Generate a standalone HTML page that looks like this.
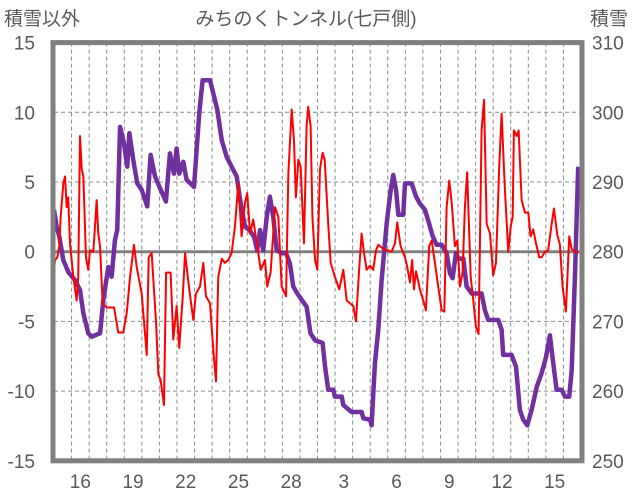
<!DOCTYPE html>
<html><head><meta charset="utf-8"><style>
html,body{margin:0;padding:0;background:#fff;}
svg{display:block;font-family:"Liberation Sans","Noto Sans CJK JP",sans-serif;}
</style></head><body>
<svg id="chart" width="636" height="501" viewBox="0 0 636 501" xmlns="http://www.w3.org/2000/svg">
<text x="306" y="25" text-anchor="middle" font-size="19" fill="#595959">みちのくトンネル(七戸側)</text>
<text x="4" y="25" font-size="19" fill="#595959">積雪以外</text>
<text x="590" y="25" font-size="19" fill="#595959">積雪</text>
<g id="grid"></g>
<g id="series"></g>
<g id="frame"></g>
<g id="labels"></g>
</svg>
<script>
const xLabels = ["16","19","22","25","28","3","6","9","12","15"];
const xLabelDays = [1,4,7,10,13,16,19,22,25,28];
const leftTicks = [15,10,5,0,-5,-10,-15];
const rightTicks = [310,300,290,280,270,260,250];
const redT = [0,.06,.19,.30,.38,.53,.63,.72,.81,.91,1.10,1.29,1.38,1.48,1.58,1.67,1.82,1.95,2.05,2.24,2.43,2.52,2.62,2.77,3.00,3.42,3.66,3.94,4.14,4.33,4.55,4.71,4.99,5.28,5.39,5.56,5.81,5.94,6.07,6.26,6.38,6.64,6.79,6.98,7.13,7.33,7.46,7.70,7.93,8.08,8.31,8.50,8.65,8.88,9.07,9.22,9.35,9.55,9.73,9.92,10.11,10.30,10.49,10.68,10.87,11.00,11.16,11.34,11.57,11.77,12.01,12.14,12.33,12.58,12.77,12.96,13.21,13.34,13.53,13.66,13.77,13.91,14.04,14.23,14.38,14.47,14.61,14.71,14.86,14.99,15.14,15.29,15.41,15.61,15.75,15.99,16.24,16.47,16.66,16.85,17.04,17.19,17.38,17.51,17.65,17.80,17.99,18.17,18.33,18.46,18.74,19.22,19.41,19.54,19.73,19.98,20.11,20.26,20.39,20.49,20.61,20.83,21.02,21.17,21.36,21.50,21.74,21.87,22.07,22.22,22.35,22.50,22.64,22.82,22.96,23.11,23.26,23.39,23.52,23.72,23.87,24.02,24.17,24.34,24.48,24.63,24.82,25.00,25.16,25.35,25.48,25.67,25.86,26.00,26.11,26.18,26.34,26.45,26.62,26.81,27.00,27.13,27.28,27.44,27.62,27.76,27.95,28.13,28.33,28.46,28.65,28.80,28.95,29.14,29.33,29.47,29.66,29.84];
const redV = [-1.4,-0.6,-0.4,0.4,2.5,4.9,5.4,3.2,3.9,0.6,-1.8,-3.5,-1.8,8.3,5.9,5.4,-0.4,-1.3,0.1,0.0,3.7,1.3,0.4,-3.7,-4.0,-4.0,-5.8,-5.8,-4.4,-1.8,0.5,-1.1,-3.0,-7.4,-0.4,-0.1,-5.1,-8.8,-9.2,-11,-1.5,-1.5,-6.3,-3.9,-6.9,-3.2,-0.1,-2.7,-4.9,-3.0,-2.5,-0.8,-3.2,-3.7,-7.1,-9.3,-1.8,-0.5,-0.8,-0.6,-0.1,1.8,4.9,1.1,3.5,4.2,1.3,2.3,0.4,-1.3,-0.6,-2.5,-1.5,3.2,2.5,-2.5,-3.2,5.6,10.2,8.0,3.9,6.6,6.1,0.6,9.0,10.4,9.0,2.5,-0.6,-1.3,5.9,7.1,6.6,2.0,-0.8,-1.8,-2.7,-1.3,-3.5,-3.7,-3.9,-5.0,-1.1,1.3,-0.1,-1.3,-1.0,-1.3,0.1,0.5,0.2,0.0,0.6,2.1,0.4,-0.4,-1.1,-2.2,-0.6,-2.7,-1.4,-2.7,-3.5,-4.2,0.4,0.8,-1.3,-2.5,-4.2,-4.3,3.2,5.1,3.5,0.4,0.8,-2.5,-1.5,3.2,5.7,-1.8,-3.5,-5.4,-5.9,8.7,10.9,2.0,1.3,-1.7,-0.8,6.3,9.9,4.4,0.0,1.8,2.5,8.7,8.3,8.7,3.7,2.8,2.8,1.1,1.6,0.6,-0.4,-0.4,0.0,0.1,2.0,3.1,1.2,0.5,-2.5,-4.3,1.1,0.2,0.0,-0.1];
const snowT = [0,.15,.30,.53,.81,1.20,1.48,1.67,1.95,2.15,2.62,2.81,3.09,3.28,3.47,3.60,3.76,3.98,4.17,4.29,4.51,4.74,4.99,5.31,5.50,5.75,6.07,6.37,6.60,6.83,6.98,7.13,7.36,7.55,7.97,8.12,8.27,8.46,8.88,9.07,9.30,9.55,9.83,10.11,10.40,10.63,10.87,11.12,11.38,11.57,11.73,11.91,12.11,12.29,12.48,12.68,12.96,13.21,13.43,13.62,13.85,14.10,14.38,14.60,14.86,15.29,15.43,15.61,15.90,15.99,16.38,16.47,16.94,17.51,17.61,17.99,18.08,18.27,18.46,18.65,18.94,19.17,19.31,19.47,19.60,19.88,19.98,20.36,20.61,20.83,21.12,21.30,21.56,21.78,22.07,22.35,22.54,22.69,22.88,23.01,23.30,23.49,23.78,24.34,24.53,24.72,25.29,25.48,25.57,26.05,26.30,26.52,26.71,26.94,27.19,27.48,27.76,28.01,28.23,28.42,28.61,28.90,29.09,29.33,29.47,29.66,29.84];
const snowV = [286,283.6,282.2,278.8,277.1,275.9,274.5,271.2,268.3,267.8,268.3,273.1,277.8,276.4,281.7,283.1,297.9,295.6,292.2,297,293.2,289.8,288.9,286.5,293.9,290.8,288.9,287.2,294.1,291.2,294.8,291.2,292.9,290.3,289.3,294.6,299.9,304.6,304.6,302.7,300.3,296,293.6,292.2,290.8,286.9,283.6,283.1,282.2,280.2,283.1,280.2,285,287.9,285,280.2,279.8,279.8,278.3,275,274,273.1,272.1,268.3,267.3,266.9,263.5,260.2,260.2,259.2,259.2,258,257,257,256.1,255.9,255.1,264,268.8,275.9,284.1,288.9,291,288.9,285.3,285.3,289.8,289.8,287.9,286.9,286,284.5,282.2,281,281,279.8,276.9,276.2,279.8,279,279,275,274,274,271.6,270.2,270.2,268.8,265.2,265.2,263.5,257.3,255.9,255.1,257.3,260.6,262.6,264.9,268,264,260.2,260.2,259.2,259.2,263,276.9,292.2];

const X0=54, X1=581, Y0=42.6, Y1=460.8, NDAYS=30;
const xS = t => X0 + t*(X1-X0)/NDAYS;
const yL = v => Y0 + (15-v)*(Y1-Y0)/30;
const yR = v => Y0 + (310-v)*(Y1-Y0)/60;
const NS="http://www.w3.org/2000/svg";
function mk(tag, parent, attrs){const e=document.createElementNS(NS,tag);for(const k in attrs)e.setAttribute(k,attrs[k]);parent.appendChild(e);return e;}
const grid=document.getElementById('grid'), series=document.getElementById('series'), frame=document.getElementById('frame'), labels=document.getElementById('labels');
for(let d=1; d<NDAYS; d++){
  const l=mk('line',grid,{x1:xS(d),x2:xS(d),y1:Y0,y2:Y1,stroke:'#8c8c8c','stroke-width':1,'stroke-dasharray':'4,3'});
  
  
}
leftTicks.forEach((v,i)=>{
  if(v!==15 && v!==-15 && v!==0){
    const l=mk('line',grid,{x1:X0,x2:X1,y1:yL(v),y2:yL(v),stroke:'#8c8c8c','stroke-width':1,'stroke-dasharray':'4,3'});
    
    
  }
  const t=mk('text',labels,{x:35,y:yL(v)+7,'text-anchor':'end','font-size':19,fill:'#595959'});
  t.textContent=v;
  
  
  const r=mk('text',labels,{x:592,y:yL(v)+7,'font-size':19,fill:'#595959'});
  r.textContent=rightTicks[i];
  
  
});
const zl=mk('line',grid,{x1:X0,x2:X1,y1:yL(0),y2:yL(0),stroke:'#808080','stroke-width':3});


xLabels.forEach((s,i)=>{
  const t=mk('text',labels,{x:xS(xLabelDays[i]+0.5),y:488,'text-anchor':'middle','font-size':19,fill:'#595959'});
  t.textContent=s;
  
  
});
const sp=mk('polyline',series,{points:snowT.map((t,i)=>xS(t)+','+yR(snowV[i])).join(' '),fill:'none',stroke:'#7030A0','stroke-width':4.5,'stroke-linejoin':'round'});


const rp=mk('polyline',series,{points:redT.map((t,i)=>xS(t)+','+yL(redV[i])).join(' '),fill:'none',stroke:'#FF0000','stroke-width':2,'stroke-linejoin':'round'});


const fr=mk('rect',frame,{x:X0-1,y:Y0,width:X1-X0+2,height:Y1-Y0,fill:'none',stroke:'#808080','stroke-width':5});


</script>
</body></html>
